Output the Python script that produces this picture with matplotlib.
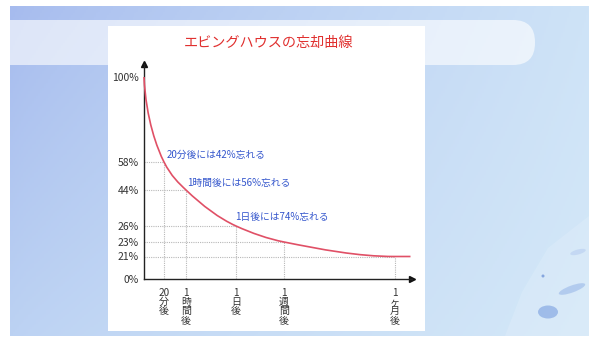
import numpy as np
import matplotlib
matplotlib.use("Agg")
import matplotlib.pyplot as plt
from matplotlib.path import Path
from matplotlib.patches import PathPatch, Rectangle, FancyBboxPatch, Ellipse, Polygon

plt.rcParams['font.family'] = ['Noto Sans CJK JP', 'DejaVu Sans']

# forgetting curve: elapsed time (hours) and retention (%)
title = "エビングハウスの忘却曲線"
periods = ["20分", "1時間", "1日", "1週間", "1ヶ月"]
hours = [0, 1 / 3, 1, 24, 168, 720]
retention = [100, 58, 44, 26, 23, 21]
n_notes = 3  # only the first three intervals get a note

# axis layout: pixel offset of each knot along the axes
x_knot_px = [0, 20, 42, 92, 140, 250.5]
y_knot_val = [0, 21, 23, 26, 44, 58, 100]
y_knot_px = [0, 22.5, 37, 53, 89, 117, 202]
note_offsets = [(3, 7), (1, 7), (-1, 9)]

W, H = 589, 338


def piecewise(xs, ys):
    xs = np.asarray(xs, float)
    ys = np.asarray(ys, float)
    lo_slope = (ys[1] - ys[0]) / (xs[1] - xs[0])
    hi_slope = (ys[-1] - ys[-2]) / (xs[-1] - xs[-2])

    def f(v):
        v = np.asarray(v, float)
        out = np.interp(v, xs, ys)
        out = np.where(v > xs[-1], ys[-1] + (v - xs[-1]) * hi_slope, out)
        out = np.where(v < xs[0], ys[0] + (v - xs[0]) * lo_slope, out)
        return out
    return f


fx, fx_inv = piecewise(hours, x_knot_px), piecewise(x_knot_px, hours)
fy, fy_inv = piecewise(y_knot_val, y_knot_px), piecewise(y_knot_px, y_knot_val)

fig = plt.figure(figsize=(W / 100, H / 100), dpi=100, facecolor='white')

# slide background
bg = fig.add_axes([0, 0, 1, 1])
bg.set_xlim(0, W)
bg.set_ylim(H, 0)
bg.axis('off')
tl, tr = np.array([166, 187, 238]), np.array([206, 227, 247])
bl, br = np.array([188, 210, 243]), np.array([212, 232, 248])
u = np.linspace(0, 1, 300)[None, :, None] ** 0.8
v = np.linspace(0, 1, 200)[:, None, None]
grad = (tl * (1 - u) + tr * u) * (1 - v) + (bl * (1 - u) + br * u) * v
bg.imshow(grad.astype(np.uint8), extent=(10, W, 336, 6), aspect='auto', zorder=0)
bg.add_patch(FancyBboxPatch((-30, 20), 565, 45, boxstyle="round,pad=0,rounding_size=22",
                            fc='white', ec='none', alpha=0.62, zorder=1))
# faded figure in the lower right corner
bg.add_patch(Polygon([(505, 336), (522, 292), (548, 248), (589, 216), (589, 336)],
                     closed=True, fc='white', ec='none', alpha=0.14, zorder=1))
bg.add_patch(Ellipse((548, 312), 20, 13, fc='#8cadE4', ec='none', alpha=0.75, zorder=1))
bg.add_patch(Ellipse((572, 289), 28, 7, angle=-20, fc='#9ab8e8', ec='none', alpha=0.6, zorder=1))
bg.add_patch(Ellipse((543, 276), 3, 3, fc='#86a6de', ec='none', zorder=1))
bg.add_patch(Ellipse((578, 252), 16, 5, angle=-15, fc='#bcd2f1', ec='none', alpha=0.7, zorder=1))
bg.add_patch(Rectangle((108, 26), 317, 305, fc='white', ec='none', zorder=2))
bg.text(269, 43, title, ha='center', va='center', fontsize=10.2, color='#e0302f', zorder=3)

# chart
ax = fig.add_axes([144 / W, 59 / H, 268 / W, 215 / H])
ax.patch.set_alpha(0)
ax.set_xscale('function', functions=(fx, fx_inv))
ax.set_yscale('function', functions=(fy, fy_inv))
ax.set_xlim(0, float(fx_inv(268)))
ax.set_ylim(0, float(fy_inv(215)))

for s in ('top', 'right'):
    ax.spines[s].set_visible(False)
for s in ('left', 'bottom'):
    ax.spines[s].set_color('#222222')
    ax.spines[s].set_linewidth(1.0)
ax.plot(1, 0, '>', color='#111111', ms=5, transform=ax.transAxes, clip_on=False)
ax.plot(0, 1, '^', color='#111111', ms=5, transform=ax.transAxes, clip_on=False)

# drop lines to each measured point
for h, r in zip(hours[1:], retention[1:]):
    ax.plot([h, h], [0, r], color='#b8b8b8', lw=0.8, ls=(0, (1, 1)), zorder=1)
    ax.plot([0, h], [r, r], color='#b8b8b8', lw=0.8, ls=(0, (1, 1)), zorder=1)

# smooth curve through the points (monotone cubic, as Bezier segments in scaled space)
px = fx(hours)
py = fy(retention)
hs = np.diff(px)
dl = np.diff(py) / hs
d = np.zeros(len(px))
for i in range(1, len(px) - 1):
    w1, w2 = 2 * hs[i] + hs[i - 1], hs[i] + 2 * hs[i - 1]
    d[i] = (w1 + w2) / (w1 / dl[i - 1] + w2 / dl[i])
d[-1] = ((2 * hs[-1] + hs[-2]) * dl[-1] - hs[-1] * dl[-2]) / (hs[-1] + hs[-2])
if np.sign(d[-1]) != np.sign(dl[-1]):
    d[-1] = 0

verts = [(px[0], py[0])]
codes = [Path.MOVETO]
for i in range(len(px) - 1):
    h = hs[i]
    if i == 0:
        # near-vertical start
        c1 = (px[0] + 2, py[0] + 0.5 * (py[1] - py[0]))
    else:
        c1 = (px[i] + h / 3, py[i] + d[i] * h / 3)
    c2 = (px[i + 1] - h / 3, py[i + 1] - d[i + 1] * h / 3)
    verts += [c1, c2, (px[i + 1], py[i + 1])]
    codes += [Path.CURVE4] * 3
verts.append((px[-1] + 16, py[-1] + d[-1] * 16))
codes.append(Path.LINETO)
ax.add_patch(PathPatch(Path(verts, codes), fc='none', ec='#e05066', lw=1.2,
                       transform=ax.transLimits + ax.transAxes, clip_on=False, zorder=3))

# notes on how much is forgotten
for i in range(n_notes):
    h, r = hours[i + 1], retention[i + 1]
    ax.annotate(f"{periods[i]}後には{100 - r}%忘れる", (h, r), xytext=note_offsets[i],
                textcoords='offset pixels', ha='left', va='center', fontsize=7,
                color='#3355cc', zorder=4)


def stacked(label):
    num = ''.join(c for c in label if c.isdigit())
    rest = label[len(num):] + "後"
    return "\n".join([num] + list(rest))


ax.set_xticks(hours[1:], [stacked(p) for p in periods])
yt = sorted([0] + retention)
ax.set_yticks(yt, [f"{v}%" for v in yt])
ax.tick_params(axis='x', length=0, pad=6.5, labelsize=7.2, labelcolor='#333333')
ax.tick_params(axis='y', length=0, pad=3.6, labelsize=7.5, labelcolor='#333333')
for lbl in ax.get_xticklabels():
    lbl.set_linespacing(0.9)
ax.minorticks_off()

fig.savefig('out.png', dpi=100)
